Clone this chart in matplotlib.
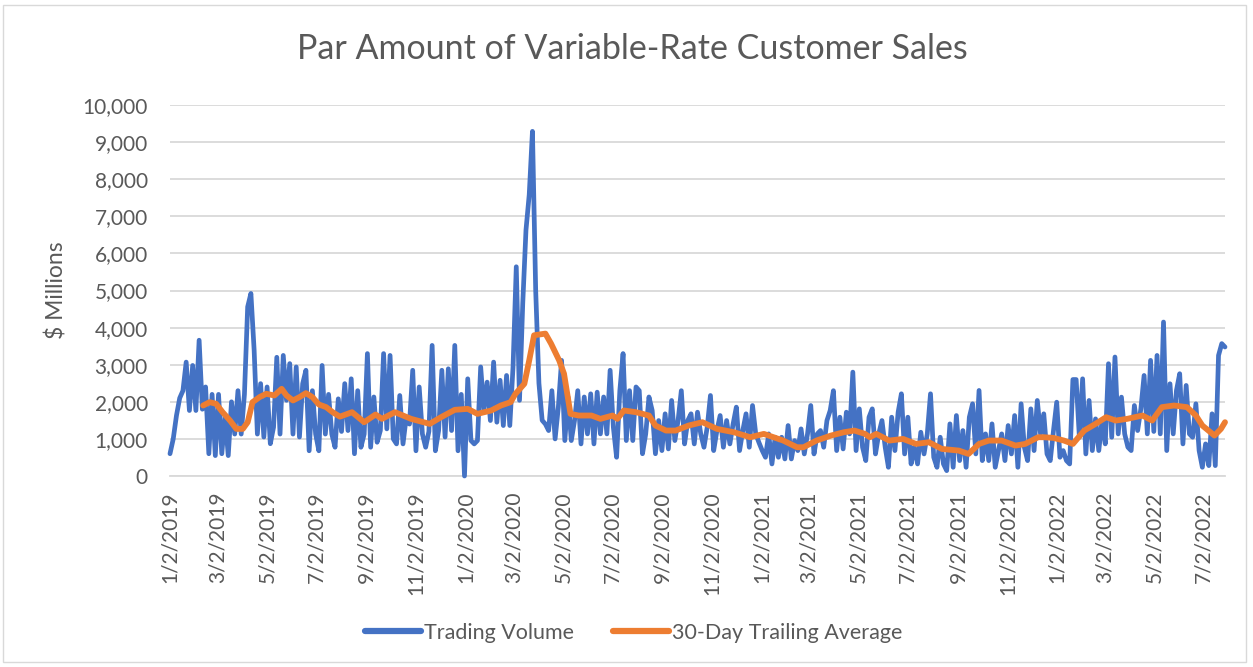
import matplotlib
matplotlib.use("Agg")
import matplotlib.pyplot as plt
from matplotlib.patches import Rectangle
from matplotlib.ticker import FuncFormatter, MultipleLocator
import pandas as pd

# ---------------- data ----------------
title = "Par Amount of Variable-Rate Customer Sales"
y_label = "$ Millions"
series_names = ["Trading Volume", "30-Day Trailing Average"]

# Trading volume, sampled every 4 calendar days from 1/2/2019
vol_2019_h1 = [600, 1000, 1630, 2100, 2300, 3070, 1765, 2980, 1765, 3660,
               1800, 2400, 600, 2200, 550, 2200, 600, 1600, 550, 2000,
               1130, 2300, 1130, 2200, 4560, 4920, 3390, 1130, 2490, 1050,
               2400, 870, 1315, 3200, 1130, 3250, 2040, 3030, 1130, 2940,
               1050, 2490, 2850, 680, 2300, 1130, 680, 2980, 1130, 2200,
               1130, 775, 2080]
vol_2019_h2 = [1200, 2490, 1225, 2620, 600, 2300, 775, 1130, 3300, 775,
               2130, 910, 1225, 3300, 1270, 3250, 1000, 865, 2170, 865,
               1585, 1400, 2850, 680, 2400, 1130, 775, 1200, 3520, 680,
               1225, 2850, 1050, 2890, 1225, 3520, 680, 2200, 0, 2620,
               955, 865, 955, 2940, 1765, 2530, 1495, 3070, 1450, 2580,
               1360, 2710, 1360, 2940]
vol_2020_h1 = [5640, 2040, 4650, 6630, 7580, 9290, 5000, 2500, 1500, 1400,
               1225, 2300, 1000, 1856, 3117, 955, 2130, 955, 1495, 2300,
               865, 2130, 1135, 2215, 865, 2260, 1135, 2130, 1135, 2850,
               1315, 505, 2300, 3300, 955, 2300, 955, 2400, 2300, 600,
               1135, 2130, 1766, 600, 1495, 685, 1676, 730, 2036, 955,
               1495, 2300, 865, 1495]
vol_2020_h2 = [1676, 865, 1720, 1135, 775, 1315, 2170, 685, 1225, 1630,
               775, 1495, 865, 1400, 1856, 685, 1225, 1676, 775, 1900,
               1135, 900, 685, 505, 1135, 325, 1045, 505, 1045, 460,
               1360, 460, 955, 685, 1270, 595, 1135, 1900, 595, 1135,
               1225, 775, 1495, 1766, 2300, 685, 1585, 730, 1720, 1135,
               2800, 685, 1810, 775, 415]
vol_2021 = [1585, 1810, 595, 1135, 1495, 775, 235, 1585, 685, 1720,
            2216, 595, 1585, 325, 775, 325, 1180, 595, 1135, 2216,
            505, 235, 1045, 325, 145, 1405, 235, 1630, 415, 1225,
            235, 1585, 1946, 595, 2306, 415, 1135, 415, 1405, 235,
            685, 1135, 415, 1360, 595, 1630, 235, 1946, 775, 415,
            1810, 685, 2036, 1135]
vol_2022 = [1676, 595, 415, 1225, 1990, 505, 685, 415, 325, 2600,
            2600, 1045, 2620, 595, 2036, 685, 1540, 685, 1495, 865,
            3027, 1045, 3207, 1135, 2126, 1135, 775, 685, 1900, 1225,
            1810, 2710, 1135, 3117, 1200, 3250, 1135, 4150, 685, 2486,
            1135, 2306, 2757, 865, 2441, 1135, 1045, 1946, 685, 235,
            865, 280, 1676, 280, 3250, 3568, 3477]

volume = vol_2019_h1 + vol_2019_h2 + vol_2020_h1 + vol_2020_h2 + vol_2021 + vol_2022
volume_dates = pd.date_range("2019-01-02", periods=len(volume), freq="4D")

# 30-day trailing average
avg_dates = ["2019-02-12", "2019-02-20", "2019-02-28", "2019-03-08", "2019-03-17",
             "2019-03-25", "2019-04-02", "2019-04-08", "2019-04-14", "2019-04-23",
             "2019-05-01", "2019-05-11", "2019-05-20", "2019-05-26", "2019-06-03",
             "2019-06-11", "2019-06-19", "2019-06-27", "2019-07-05", "2019-07-14",
             "2019-07-22", "2019-07-31", "2019-08-15", "2019-08-30", "2019-09-13",
             "2019-09-21", "2019-10-07", "2019-10-27", "2019-11-19", "2019-12-03",
             "2019-12-20", "2020-01-05", "2020-01-17", "2020-02-03", "2020-02-15",
             "2020-02-27", "2020-03-04", "2020-03-15", "2020-03-21", "2020-03-27",
             "2020-04-10", "2020-04-17", "2020-04-27", "2020-05-03", "2020-05-11",
             "2020-05-21", "2020-06-06", "2020-06-17", "2020-07-02", "2020-07-08",
             "2020-07-16", "2020-07-31", "2020-08-16", "2020-08-24", "2020-09-06",
             "2020-09-18", "2020-10-04", "2020-10-21", "2020-11-08", "2020-11-29",
             "2020-12-19", "2021-01-05", "2021-01-29", "2021-02-15", "2021-02-23",
             "2021-03-11", "2021-03-29", "2021-04-14", "2021-04-27", "2021-05-10",
             "2021-05-16", "2021-05-24", "2021-06-09", "2021-06-26", "2021-07-12",
             "2021-07-28", "2021-08-13", "2021-09-03", "2021-09-15", "2021-09-28",
             "2021-10-10", "2021-10-26", "2021-11-12", "2021-11-24", "2021-12-10",
             "2021-12-17", "2021-12-29", "2022-01-11", "2022-01-22", "2022-02-05",
             "2022-02-19", "2022-03-04", "2022-03-16", "2022-03-30", "2022-04-18",
             "2022-04-30", "2022-05-12", "2022-05-27", "2022-06-12", "2022-06-23",
             "2022-07-01", "2022-07-16", "2022-07-24", "2022-07-29"]
avg_values = [1900, 1990, 1946, 1720, 1500, 1270, 1270, 1450, 1990, 2130,
              2216, 2170, 2350, 2170, 2036, 2126, 2234, 2126, 1928, 1856,
              1720, 1600, 1720, 1450, 1657, 1540, 1720, 1540, 1405, 1585,
              1784, 1810, 1675, 1766, 1900, 1990, 2216, 2486, 3117, 3793,
              3838, 3568, 3117, 2757, 1676, 1630, 1630, 1540, 1630, 1540,
              1766, 1720, 1630, 1360, 1225, 1225, 1360, 1450, 1270, 1180,
              1045, 1135, 955, 775, 775, 955, 1090, 1180, 1225, 1135,
              1045, 1135, 955, 1000, 865, 910, 730, 685, 595, 865,
              955, 955, 820, 865, 1045, 1045, 1027, 955, 865, 1225,
              1405, 1585, 1495, 1540, 1630, 1495, 1856, 1900, 1856, 1630,
              1360, 1090, 1270, 1450]

x_tick_labels = ["1/2/2019", "3/2/2019", "5/2/2019", "7/2/2019", "9/2/2019", "11/2/2019",
                 "1/2/2020", "3/2/2020", "5/2/2020", "7/2/2020", "9/2/2020", "11/2/2020",
                 "1/2/2021", "3/2/2021", "5/2/2021", "7/2/2021", "9/2/2021", "11/2/2021",
                 "1/2/2022", "3/2/2022", "5/2/2022", "7/2/2022"]
x_range = ["2019-01-02", "2022-07-29"]
y_max = 10000
y_step = 1000

# ---------------- styling ----------------
BLUE = "#4472C4"
ORANGE = "#ED7D31"
TEXT = "#595959"
GRID = "#D9D9D9"
FONT = ["Lato", "DejaVu Sans"]
plt.rcParams["font.family"] = FONT

W, H = 1253, 667
fig = plt.figure(figsize=(W / 100, H / 100), dpi=100)
fig.patch.set_facecolor("white")

# outer chart border
fig.patches.append(Rectangle((3 / W, 1 - 662 / H), (1246 - 3) / W, (662 - 5) / H,
                             transform=fig.transFigure, fill=False,
                             edgecolor=GRID, linewidth=1.0))

left, right, top, bottom = 170, 1225, 105, 476
ax = fig.add_axes([left / W, 1 - bottom / H, (right - left) / W, (bottom - top) / H])

ax.plot(volume_dates, volume, color=BLUE, linewidth=3.4, label=series_names[0],
        solid_joinstyle="round", solid_capstyle="round", zorder=3, clip_on=False)
ax.plot(pd.to_datetime(avg_dates), avg_values, color=ORANGE, linewidth=4.2,
        label=series_names[1], solid_joinstyle="round", solid_capstyle="round",
        zorder=4, clip_on=False)

ax.set_xlim(pd.to_datetime(x_range[0]), pd.to_datetime(x_range[1]))
ax.set_ylim(0, y_max)
ax.yaxis.set_major_locator(MultipleLocator(y_step))
ax.yaxis.set_major_formatter(FuncFormatter(lambda v, p: f"{int(v):,}"))

tick_dates = pd.to_datetime(x_tick_labels, format="%m/%d/%Y")
ax.set_xticks(tick_dates)
ax.set_xticklabels(x_tick_labels, rotation=90, va="top", ha="center")

ax.grid(axis="y", color=GRID, linewidth=1.3, zorder=0)
ax.grid(axis="x", visible=False)
for s in ["top", "right", "left"]:
    ax.spines[s].set_visible(False)
ax.spines["bottom"].set_color(GRID)
ax.spines["bottom"].set_linewidth(1.3)
ax.tick_params(axis="both", length=0, labelsize=15, labelcolor=TEXT)
ax.tick_params(axis="y", pad=16)
ax.tick_params(axis="x", pad=11)

fig.text(57 / W, 1 - 290 / H, y_label, rotation=90, ha="center", va="center",
         fontsize=16.5, color=TEXT)
fig.text(632 / W, 1 - 49 / H, title, ha="center", va="center",
         fontsize=24.5, color=TEXT, fontweight="normal")

leg = fig.legend(loc="center", bbox_to_anchor=(634 / W, 1 - 633 / H), ncol=2,
                 frameon=False, fontsize=15.5, handlelength=2.6,
                 handletextpad=0.15, columnspacing=1.8)
for t in leg.get_texts():
    t.set_color(TEXT)
for h in leg.get_lines():
    h.set_linewidth(4.5)
    h.set_solid_capstyle("round")

fig.savefig("out.png", dpi=100, facecolor="white")
